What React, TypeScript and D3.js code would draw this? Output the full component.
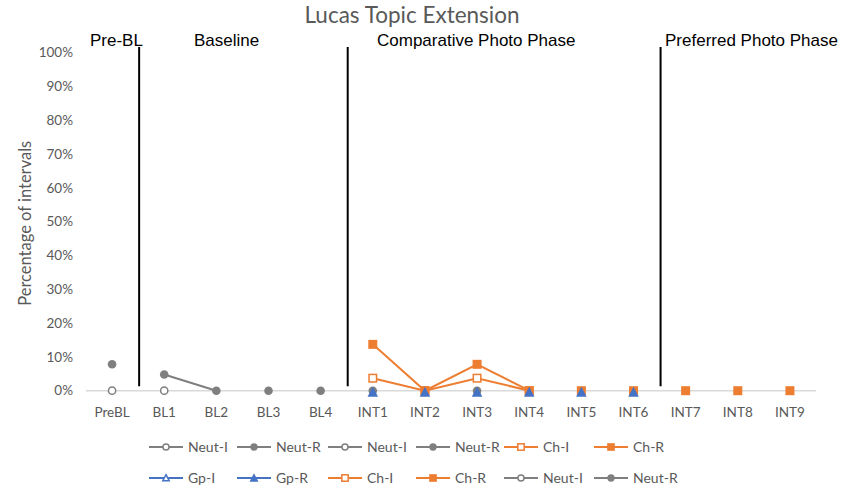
import React from "react";
import * as d3 from "d3";

const W = 855;
const H = 491;

const categories = [
  "PreBL", "BL1", "BL2", "BL3", "BL4",
  "INT1", "INT2", "INT3", "INT4", "INT5", "INT6", "INT7", "INT8", "INT9",
];

const yTicks = [0, 0.1, 0.2, 0.3, 0.4, 0.5, 0.6, 0.7, 0.8, 0.9, 1];

type Point = [string, number];
type Kind = "neutI" | "neutR" | "chI" | "chR" | "gpI" | "gpR";
interface Series { name: string; kind: Kind; runs: Point[][] }

// Each run is a connected stretch of points; single-point runs show only a marker.
const neutIPre: Point[][] = [[["PreBL", 0]]];
const neutRPre: Point[][] = [[["PreBL", 0.078]]];
const neutIBase: Point[][] = [[["BL1", 0]]];
const neutRBase: Point[][] = [[["BL1", 0.048], ["BL2", 0]], [["BL3", 0]], [["BL4", 0]]];
const chIComp: Point[][] = [[["INT1", 0.037], ["INT2", 0], ["INT3", 0.037], ["INT4", 0]]];
const chRComp: Point[][] = [
  [["INT1", 0.137], ["INT2", 0], ["INT3", 0.078], ["INT4", 0]],
  [["INT5", 0]], [["INT6", 0]],
];
const gpIComp: Point[][] = [];
const gpRComp: Point[][] = [
  [["INT1", 0]], [["INT2", 0]], [["INT3", 0]], [["INT4", 0]], [["INT5", 0]], [["INT6", 0]],
];
const chIPref: Point[][] = [];
const chRPref: Point[][] = [[["INT7", 0]], [["INT8", 0]], [["INT9", 0]]];
const neutIComp: Point[][] = [];
const neutRComp: Point[][] = [[["INT1", 0]], [["INT3", 0]]];

const series: Series[] = [
  { name: "Neut-I", kind: "neutI", runs: neutIPre },
  { name: "Neut-R", kind: "neutR", runs: neutRPre },
  { name: "Neut-I", kind: "neutI", runs: neutIBase },
  { name: "Neut-R", kind: "neutR", runs: neutRBase },
  { name: "Ch-I", kind: "chI", runs: chIComp },
  { name: "Ch-R", kind: "chR", runs: chRComp },
  { name: "Gp-I", kind: "gpI", runs: gpIComp },
  { name: "Gp-R", kind: "gpR", runs: gpRComp },
  { name: "Ch-I", kind: "chI", runs: chIPref },
  { name: "Ch-R", kind: "chR", runs: chRPref },
  { name: "Neut-I", kind: "neutI", runs: neutIComp },
  { name: "Neut-R", kind: "neutR", runs: neutRComp },
];

const phases = ["Pre-BL", "Baseline", "Comparative Photo Phase", "Preferred Photo Phase"];
const phaseStarts = ["PreBL", "BL1", "INT1", "INT7"];

const GRAY = "#7f7f7f";
const ORANGE = "#ed7d31";
const BLUE = "#4472c4";
const TEXT = "#595959";
const FONT = "Lato, 'Open Sans', sans-serif";

const colorOf: Record<Kind, string> = {
  neutI: GRAY, neutR: GRAY, chI: ORANGE, chR: ORANGE, gpI: BLUE, gpR: BLUE,
};
const layerOf: Record<Kind, number> = { neutI: 0, neutR: 0, chI: 1, chR: 1, gpI: 2, gpR: 2 };

function triangle(cx: number, cy: number, w: number, h: number) {
  const p = d3.path();
  p.moveTo(cx, cy - h * 0.55);
  p.lineTo(cx + w / 2, cy + h * 0.45);
  p.lineTo(cx - w / 2, cy + h * 0.45);
  p.closePath();
  return p.toString();
}

function Marker({ kind, cx, cy, legend }: { kind: Kind; cx: number; cy: number; legend?: boolean }) {
  const c = colorOf[kind];
  const k = legend ? 0.85 : 1;
  switch (kind) {
    case "neutI":
      return <circle cx={cx} cy={cy} r={3.6 * k} fill="#fff" stroke={c} strokeWidth={1.5} />;
    case "neutR":
      return <circle cx={cx} cy={cy} r={4.3 * k} fill={c} />;
    case "chI": {
      const s = 7.5 * k;
      return <rect x={cx - s / 2} y={cy - s / 2} width={s} height={s} fill="#fff" stroke={c} strokeWidth={1.5} />;
    }
    case "chR": {
      const s = 9 * k;
      return <rect x={cx - s / 2} y={cy - s / 2} width={s} height={s} fill={c} />;
    }
    case "gpI":
      return <path d={triangle(cx, cy, 7.5 * k, 7 * k)} fill="#fff" stroke={c} strokeWidth={1.5} />;
    case "gpR":
      return <path d={triangle(cx, cy + (legend ? 0 : 1.5), 10.5 * k, 10 * k)} fill={c} />;
  }
}

export default function App() {
  const x = d3.scaleBand<string>().domain(categories).range([86, 816]);
  const y = d3.scaleLinear().domain([0, 1]).range([390.7, 52.5]);
  const cx = (c: string) => (x(c) ?? 0) + x.bandwidth() / 2;

  const line = d3.line<Point>().x((d) => cx(d[0])).y((d) => y(d[1]));
  const drawOrder = series
    .map((s, i) => ({ s, i }))
    .sort((a, b) => layerOf[a.s.kind] - layerOf[b.s.kind] || a.i - b.i);

  const phaseLabelX = [90, 194, 377, 665];
  const dividers = phaseStarts.slice(1).map((c) => x(c) ?? 0);

  const legendCols = [149, 237, 328, 416, 504, 594];
  const legendRows = [447, 478];

  return (
    <svg width={W} height={H} style={{ position: "absolute", left: 0, top: 0, background: "#fff" }}
      fontFamily={FONT}>
      <rect width={W} height={H} fill="#fff" />
      <text x={412} y={23} textAnchor="middle" fontSize={22.5} fill={TEXT}>Lucas Topic Extension</text>

      {yTicks.map((t) => (
        <text key={t} x={73} y={y(t)} dy="0.35em" textAnchor="end" fontSize={13.5} fill={TEXT}>
          {d3.format(".0%")(t)}
        </text>
      ))}
      <text transform={`translate(25,${y(0.495)}) rotate(-90)`} textAnchor="middle" dy="0.35em"
        fontSize={16.5} fill={TEXT}>Percentage of intervals</text>

      <line x1={x.range()[0]} x2={x.range()[1]} y1={y(0)} y2={y(0)} stroke="#d9d9d9" strokeWidth={1.5} />

      {categories.map((c) => (
        <text key={c} x={cx(c)} y={412} dy="0.35em" textAnchor="middle" fontSize={13.5} fill={TEXT}>{c}</text>
      ))}

      {dividers.map((d, i) => (
        <line key={i} x1={d + 1} x2={d + 1} y1={y(1.016)} y2={y(0.013)} stroke="#000" strokeWidth={2} />
      ))}
      {phases.map((p, i) => (
        <text key={p} x={phaseLabelX[i]} y={46} fontSize={17} fill="#000"
          fontFamily="'Liberation Sans', Arial, sans-serif">{p}</text>
      ))}

      {drawOrder.map(({ s, i }) => (
        <g key={i}>
          {s.runs.filter((r) => r.length > 1).map((r, j) => (
            <path key={j} d={line(r) ?? ""} fill="none" stroke={colorOf[s.kind]} strokeWidth={2} />
          ))}
          {s.runs.flat().map((p, j) => (
            <Marker key={j} kind={s.kind} cx={cx(p[0])} cy={y(p[1])} />
          ))}
        </g>
      ))}

      {series.map((s, i) => {
        const lx = legendCols[i % 6];
        const ly = legendRows[Math.floor(i / 6)];
        return (
          <g key={i}>
            <line x1={lx} x2={lx + 34} y1={ly} y2={ly} stroke={colorOf[s.kind]} strokeWidth={2} />
            <Marker kind={s.kind} cx={lx + 17} cy={ly} legend />
            <text x={lx + 39} y={ly} dy="0.35em" fontSize={14} fill={TEXT}>{s.name}</text>
          </g>
        );
      })}
    </svg>
  );
}
